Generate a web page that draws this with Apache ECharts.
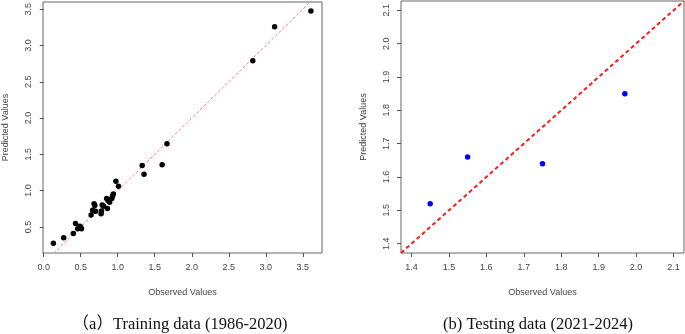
<!DOCTYPE html>
<html>
<head>
<meta charset="utf-8">
<script src="https://cdn.jsdelivr.net/npm/echarts@6/dist/echarts.min.js"></script>
<style>
    html, body { margin: 0; padding: 0; background: #fff; }
    #chart { width: 685px; height: 334px; }
</style>
</head>
<body>
<div id="chart"></div>
<script>
// training data (1986-2020): observed / predicted
var trainObserved = [0.13, 0.27, 0.40, 0.43, 0.46, 0.49, 0.51, 0.50, 0.64, 0.66, 0.68, 0.69, 0.70,
    0.775, 0.78, 0.79, 0.81, 0.85, 0.86, 0.87, 0.89, 0.92, 0.94, 0.93, 0.975, 1.01,
    1.33, 1.355, 1.60, 1.665, 2.825, 3.12, 3.61];
var trainPredicted = [0.275, 0.35, 0.41, 0.545, 0.475, 0.51, 0.475, 0.49, 0.665, 0.73, 0.82, 0.795, 0.715,
    0.68, 0.72, 0.80, 0.785, 0.89, 0.755, 0.865, 0.84, 0.89, 0.955, 0.925, 1.13, 1.06,
    1.345, 1.225, 1.355, 1.645, 2.79, 3.26, 3.475];

// testing data (2021-2024)
var testObserved = [1.45, 1.55, 1.75, 1.97];
var testPredicted = [1.52, 1.66, 1.64, 1.85];

// tick labels
var trainTicks = [0, 0.5, 1, 1.5, 2, 2.5, 3, 3.5];
var trainYTicks = [0.5, 1, 1.5, 2, 2.5, 3, 3.5];
var testTicks = [1.4, 1.5, 1.6, 1.7, 1.8, 1.9, 2.0, 2.1];

// axis limits (R style, range padded by 4%)
var trainX = [-0.01, 3.76];
var trainY = [0.14, 3.6];
var testLim = [1.372, 2.128];

function pairs(xs, ys) {
    return xs.map(function (x, i) { return [x, ys[i]]; });
}

var axisColor = '#555';

function valueAxis(lim, ticks, idx, isY, name) {
    return {
        type: 'value',
        gridIndex: idx,
        min: lim[0],
        max: lim[1],
        name: name,
        nameLocation: 'middle',
        nameGap: isY ? 33 : 35,
        nameTextStyle: { fontFamily: 'Liberation Sans', fontSize: 9, color: '#444' },
        axisLine: { show: false },
        splitLine: { show: false },
        axisTick: { show: true, length: 4, lineStyle: { color: axisColor }, customValues: ticks },
        axisLabel: {
            show: true,
            customValues: ticks,
            rotate: isY ? 90 : 0,
            margin: 10,
            fontFamily: 'Liberation Sans',
            fontSize: 9,
            color: '#444',
            formatter: function (v) { return v.toFixed(1); }
        }
    };
}

var chart = echarts.init(document.getElementById('chart'));
var option = {
    animation: false,
    backgroundColor: '#fff',
    title: [
        {
            text: '（a）Training data (1986-2020)',
            left: 175, top: 311, textAlign: 'center',
            textStyle: { fontFamily: 'Liberation Serif, Noto Sans CJK SC', fontSize: 16.5, fontWeight: 'normal', color: '#111' }
        },
        {
            text: '(b) Testing data (2021-2024)',
            left: 533, top: 311, textAlign: 'center',
            textStyle: { fontFamily: 'Liberation Serif', fontSize: 16.5, fontWeight: 'normal', color: '#111' }
        }
    ],
    grid: [
        { left: 38, top: 1, width: 284, height: 252, show: true, borderColor: '#666', borderWidth: 1, backgroundColor: 'transparent' },
        { left: 401, top: 1, width: 283, height: 252, show: true, borderColor: '#666', borderWidth: 1, backgroundColor: 'transparent' }
    ],
    xAxis: [
        valueAxis(trainX, trainTicks, 0, false, 'Observed Values'),
        valueAxis(testLim, testTicks, 1, false, 'Observed Values')
    ],
    yAxis: [
        valueAxis(trainY, trainYTicks, 0, true, 'Predicted Values'),
        valueAxis(testLim, testTicks, 1, true, 'Predicted Values')
    ],
    series: [
        {
            type: 'line',
            xAxisIndex: 0, yAxisIndex: 0,
            data: [[trainX[0], trainX[0]], [trainY[1], trainY[1]]],
            symbol: 'none',
            clip: true,
            lineStyle: { color: '#ff8080', width: 1, type: [3, 2] },
            z: 1
        },
        {
            type: 'scatter',
            xAxisIndex: 0, yAxisIndex: 0,
            data: pairs(trainObserved, trainPredicted),
            symbolSize: 5.5,
            itemStyle: { color: '#000', opacity: 1 },
            z: 2
        },
        {
            type: 'line',
            xAxisIndex: 1, yAxisIndex: 1,
            data: [[testLim[0], testLim[0]], [testLim[1], testLim[1]]],
            symbol: 'none',
            clip: true,
            lineStyle: { color: '#ff1a1a', width: 2, type: [4, 3] },
            z: 1
        },
        {
            type: 'scatter',
            xAxisIndex: 1, yAxisIndex: 1,
            data: pairs(testObserved, testPredicted),
            symbolSize: 5.5,
            itemStyle: { color: '#0000ff', opacity: 1 },
            z: 2
        }
    ]
};
chart.setOption(option);
</script>
</body>
</html>
